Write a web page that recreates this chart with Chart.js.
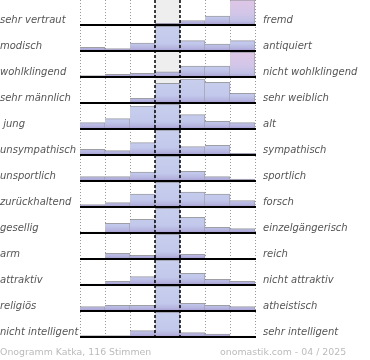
<!DOCTYPE html>
<html>
<head>
<meta charset="utf-8">
<script src="https://cdn.jsdelivr.net/npm/chart.js@4/dist/chart.umd.min.js"></script>
<style>
  html, body { margin: 0; padding: 0; background: #fff; }
  #wrap { position: relative; width: 370px; height: 360px; overflow: hidden; }
  #c { position: absolute; left: 0; top: 0; }
  .lbl { position: absolute; font-family: "DejaVu Sans", sans-serif; font-size: 10px; font-style: italic;
         color: #555; line-height: 12px; white-space: pre; }
  .foot { position: absolute; font-family: "DejaVu Sans", sans-serif; font-size: 9.4px; color: #bbb;
          line-height: 12px; white-space: pre; top: 346px; }
</style>
</head>
<body>
<div id="wrap">
  <canvas id="c" width="370" height="360"></canvas>
</div>
<script>
// ---- data ----
const COLUMNS = ['-3', '-2', '-1', '0', '1', '2', '3'];
const LEFT_LABELS = ['sehr vertraut', 'modisch', 'wohlklingend', 'sehr männlich', ' jung', 'unsympathisch',
  'unsportlich', 'zurückhaltend', 'gesellig', 'arm', 'attraktiv', 'religiös', 'nicht intelligent'];
const RIGHT_LABELS = ['fremd', 'antiquiert', 'nicht wohlklingend', 'sehr weiblich', 'alt', 'sympathisch',
  'sportlich', 'forsch', 'einzelgängerisch', 'reich', 'nicht attraktiv', 'atheistisch', 'sehr intelligent'];
const ROW_VALUES = [
  [0, 0, 0, 1.7, 4.5, 9, 40],
  [3.7, 2.3, 8, 32, 10.3, 6.8, 10.3],
  [1.3, 2.7, 3.7, 5.2, 11, 11, 34],
  [0, 0, 4.7, 19.7, 24, 20.7, 9.7],
  [6.3, 10.3, 23, 34, 14.3, 7.7, 6.3],
  [5.7, 4.3, 12.3, 38, 8.3, 9.7, 1.7],
  [4.3, 4.3, 9, 36, 9.7, 4.3, 2],
  [2.3, 4.3, 13, 33, 15, 13, 6.5],
  [1, 9.7, 13.7, 35, 15.7, 5.7, 4.3],
  [0, 5.7, 3.7, 42, 4.7, 0, 0],
  [1, 3.7, 8.3, 37, 11.7, 5.7, 3.7],
  [4.3, 5.7, 5.7, 36, 7.7, 5.7, 4.3],
  [1.3, 1.3, 6.3, 40, 4.3, 3, 1]
];
const FOOTER_LEFT = 'Onogramm Katka, 116 Stimmen';
const FOOTER_RIGHT = 'onomastik.com - 04 / 2025';

// ---- layout constants ----
const CAP = 25;      // max drawable bar height per row
const PITCH = 26;    // row pitch in value units
const CENTER = 3;
const NROWS = ROW_VALUES.length;
const baseOf = r => PITCH * (r + 1) - 1;

const datasets = ROW_VALUES.map((vals, r) => ({
  data: vals.map(v => [baseOf(r) - Math.min(v, CAP), baseOf(r)]),
  grouped: false,
  barPercentage: 1,
  categoryPercentage: 1,
  borderSkipped: false,
  borderWidth: { top: 1, right: 1, bottom: 0, left: 0 },
  borderColor: 'rgba(125,125,135,0.75)',
  backgroundColor: ctx => {
    const chart = ctx.chart;
    const y = chart.scales && chart.scales.y;
    if (!y || ctx.datasetIndex === undefined || ctx.dataIndex === undefined) return '#c4cbe9';
    const rr = ctx.datasetIndex, cc = ctx.dataIndex;
    const v = ROW_VALUES[rr][cc];
    const top = y.getPixelForValue(baseOf(rr) - CAP);
    const bot = y.getPixelForValue(baseOf(rr));
    if (!isFinite(top) || !isFinite(bot) || top === bot) return '#c4cbe9';
    const g = chart.ctx.createLinearGradient(0, top, 0, bot);
    if (v > CAP && cc !== CENTER) {
      g.addColorStop(0, '#dfc6e6');
      g.addColorStop(0.55, '#d2c6e8');
      g.addColorStop(0.85, '#c0c0e6');
      g.addColorStop(1, '#a99fd2');
    } else {
      g.addColorStop(0, '#c8cfed');
      g.addColorStop(0.7, '#c2c8eb');
      g.addColorStop(0.88, '#b6b5e0');
      g.addColorStop(1, '#a59bd0');
    }
    return g;
  }
}));

const decor = {
  id: 'decor',
  beforeDatasetsDraw(chart) {
    const { ctx, chartArea: a, scales: { x } } = chart;
    const half = (x.getPixelForValue(1) - x.getPixelForValue(0)) / 2;
    ctx.save();
    ctx.fillStyle = '#eeeeee';
    ctx.fillRect(x.getPixelForValue(CENTER) - half, a.top, half * 2, a.bottom - a.top);
    ctx.strokeStyle = '#999';
    ctx.lineWidth = 1;
    ctx.setLineDash([1, 2]);
    for (let k = 0; k <= COLUMNS.length; k++) {
      if (k === CENTER || k === CENTER + 1) continue;
      const px = Math.round(x.getPixelForValue(k) - half) + 0.5;
      ctx.beginPath(); ctx.moveTo(px, a.top); ctx.lineTo(px, a.bottom); ctx.stroke();
    }
    ctx.restore();
  },
  afterDatasetsDraw(chart) {
    const { ctx, chartArea: a, scales: { x, y } } = chart;
    const half = (x.getPixelForValue(1) - x.getPixelForValue(0)) / 2;
    ctx.save();
    ctx.strokeStyle = '#000';
    ctx.lineWidth = 2;
    ctx.setLineDash([]);
    for (let r = 0; r < NROWS; r++) {
      const py = Math.round(y.getPixelForValue(baseOf(r)));
      ctx.beginPath(); ctx.moveTo(a.left, py); ctx.lineTo(a.right + 1, py); ctx.stroke();
    }
    ctx.lineWidth = 1.5;
    ctx.setLineDash([3, 2]);
    [CENTER, CENTER + 1].forEach(k => {
      const px = Math.round(x.getPixelForValue(k) - half);
      ctx.beginPath(); ctx.moveTo(px, a.top); ctx.lineTo(px, a.bottom); ctx.stroke();
    });
    ctx.restore();
  }
};

const chart = new Chart(document.getElementById('c'), {
  type: 'bar',
  data: { labels: COLUMNS, datasets },
  options: {
    responsive: false,
    devicePixelRatio: 1,
    animation: false,
    layout: { padding: { left: 80, right: 115, top: 0, bottom: 22 } },
    plugins: { legend: { display: false }, tooltip: { enabled: false } },
    scales: {
      x: { type: 'category', display: false, offset: true },
      y: { type: 'linear', display: false, reverse: true, min: 0, max: PITCH * NROWS }
    }
  },
  plugins: [decor]
});

// ---- text labels as HTML, positioned from the y scale ----
const wrap = document.getElementById('wrap');
const ys = chart.scales.y;
const rightX = chart.chartArea.right + 8;
for (let r = 0; r < NROWS; r++) {
  const py = ys.getPixelForValue(baseOf(r));
  const l = document.createElement('div');
  l.className = 'lbl'; l.textContent = LEFT_LABELS[r];
  l.style.left = '0px'; l.style.top = (py - 11) + 'px';
  wrap.appendChild(l);
  const rt = document.createElement('div');
  rt.className = 'lbl'; rt.textContent = RIGHT_LABELS[r];
  rt.style.left = rightX + 'px'; rt.style.top = (py - 11) + 'px';
  wrap.appendChild(rt);
}
const f1 = document.createElement('div');
f1.className = 'foot'; f1.textContent = FOOTER_LEFT; f1.style.left = '0px';
wrap.appendChild(f1);
const f2 = document.createElement('div');
f2.className = 'foot'; f2.textContent = FOOTER_RIGHT; f2.style.left = '220px';
wrap.appendChild(f2);
</script>
</body>
</html>
